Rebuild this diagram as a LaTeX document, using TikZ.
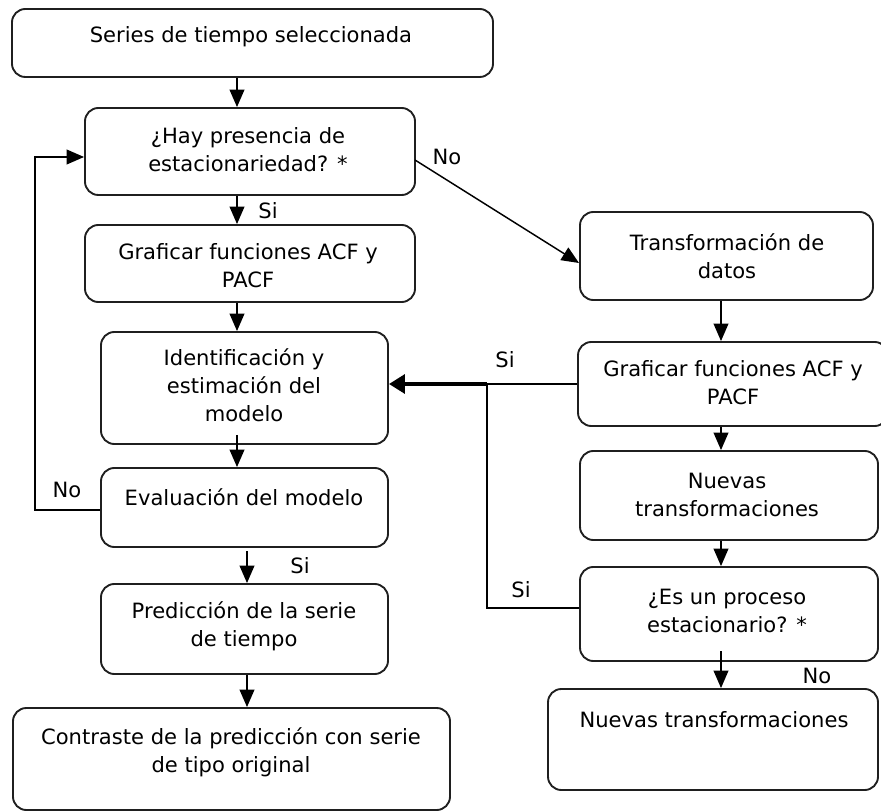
\documentclass[tikz,border=0pt]{standalone}
\usepackage{fontspec}
\setmainfont{DejaVu Sans}
\usetikzlibrary{arrows.meta,fit}
\begin{document}
\begin{tikzpicture}[x=0.75pt,y=-0.75pt,
 box/.style={draw=black!88, line width=1.4pt, rounded corners=10pt, inner sep=0pt},
 txt/.style={align=center, font=\fontsize{15.8pt}{21pt}\selectfont, inner sep=0pt},
 lab/.style={font=\fontsize{15.8pt}{18pt}\selectfont, inner sep=0pt},
 arr/.style={-{Triangle[length=13pt,width=11pt]}, line width=1.1pt},
 thickarr/.style={-{Triangle[length=12pt,width=14pt]}, line width=3pt},
 ln/.style={line width=1.1pt}]
\useasboundingbox (0,0) rectangle (881,812);
% boxes
\node[box, fit={(12,9) (493,77)}] (b1) {};
\node[box, fit={(85,108) (415,195)}] (b2) {};
\node[box, fit={(85,225) (415,302)}] (b3) {};
\node[box, fit={(101,332) (388,444)}] (b4) {};
\node[box, fit={(101,468) (388,547)}] (b5) {};
\node[box, fit={(101,584) (388,674)}] (b6) {};
\node[box, fit={(13,708) (450,810)}] (b7) {};
\node[box, fit={(580,212) (873,300)}] (b8) {};
\node[box, fit={(578,342) (888,426)}] (b9) {};
\node[box, fit={(580,451) (878,540)}] (b10) {};
\node[box, fit={(580,567) (878,661)}] (b11) {};
\node[box, fit={(548,689) (878,790)}] (b12) {};
% texts
\node[txt] (t1) at (251,37) {Series de tiempo seleccionada};
\node[txt] (t2) at (248,150) {¿Hay presencia de\\estacionariedad? *};
\node[txt] (t3) at (248,266) {Graficar funciones ACF y\\PACF};
\node[txt] (t4) at (244,385) {Identificación y\\estimación del\\modelo};
\node[txt] (t5) at (244,497) {Evaluación del modelo};
\node[txt] (t6) at (244,626) {Predicción de la serie\\de tiempo};
\node[txt] (t7) at (231,752) {Contraste de la predicción con serie\\de tipo original};
\node[txt] (t8) at (727,256) {Transformación de\\datos};
\node[txt] (t9) at (733,383) {Graficar funciones ACF y\\PACF};
\node[txt] (t10) at (727,495) {Nuevas\\transformaciones};
\node[txt] (t11) at (727,611) {¿Es un proceso\\estacionario? *};
\node[txt] (t12) at (714,720) {Nuevas transformaciones};
% helper coordinates
\coordinate (xa) at (237,0);
\coordinate (xb) at (247,0);
\coordinate (xr) at (721,0);
\coordinate (fl) at (35,510);
\coordinate (fu) at (35,157);
\coordinate (j) at (487,384);
\coordinate (jd) at (487,608);
\coordinate (s5) at (247,551);
\coordinate (s11) at (721,651);
\coordinate (s4) at (237,435);
% connectors
\draw[arr] (b1.south -| xa) -- (b2.north -| xa);
\draw[arr] (b2.south -| xa) -- (b3.north -| xa);
\draw[arr] (b3.south -| xa) -- (b4.north -| xa);
\draw[arr] (s4) -- (b5.north -| xa);
\draw[arr] (s5) -- (b6.north -| xb);
\draw[arr] (b6.south -| xb) -- (b7.north -| xb);
\draw[arr] (b5.west |- fl) -- (fl) -- (fu) -- (b2.west |- fu);
\draw[arr] (415,160) -- (579,263);
\draw[arr] (b8.south -| xr) -- (b9.north -| xr);
\draw[arr] (b9.south -| xr) -- (b10.north -| xr);
\draw[arr] (b10.south -| xr) -- (b11.north -| xr);
\draw[arr] (s11) -- (b12.north -| xr);
\draw[ln] (b9.west |- j) -- (j);
\draw[thickarr] (j) -- (b4.east |- j);
\draw[ln] (b11.west |- jd) -- (jd) -- (j);
% labels
\node[lab] (l1) at (268,211) {Si};
\node[lab] (l2) at (447,157) {No};
\node[lab] (l3) at (67,490) {No};
\node[lab] (l4) at (300,566) {Si};
\node[lab] (l5) at (505,360) {Si};
\node[lab] (l6) at (521,590) {Si};
\node[lab] (l7) at (817,676) {No};
\end{tikzpicture}
\end{document}
